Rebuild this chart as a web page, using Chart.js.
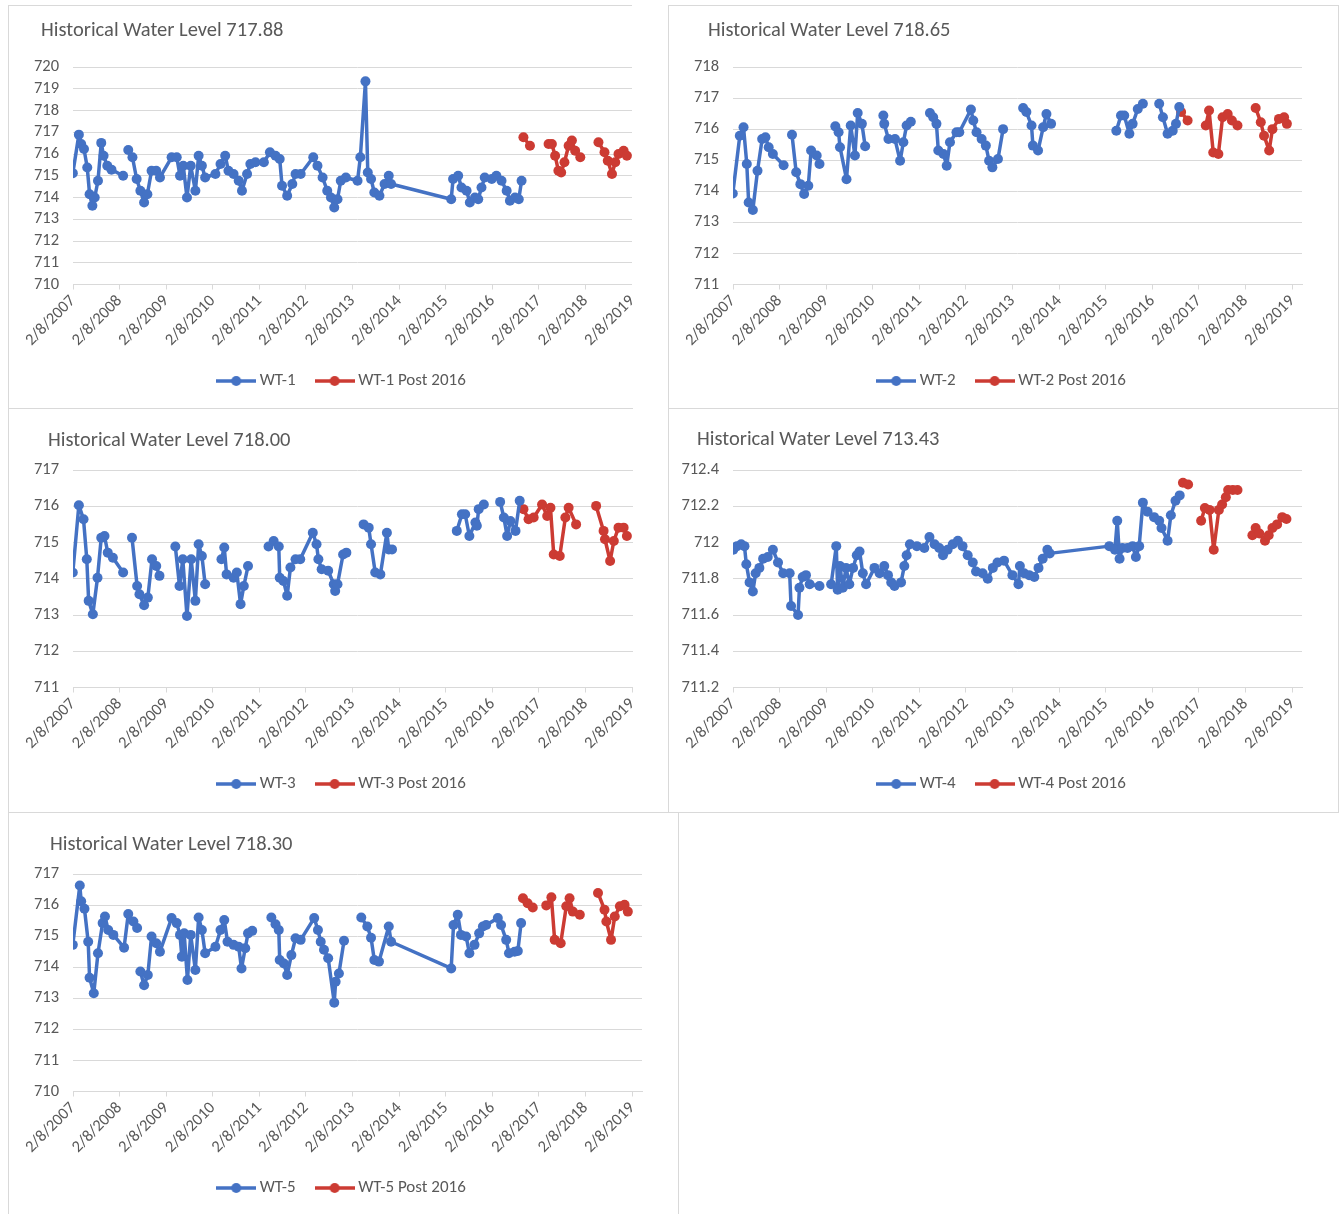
<!DOCTYPE html>
<html>
<head>
<meta charset="utf-8">
<title>Historical Water Levels</title>
<script src="https://cdn.jsdelivr.net/npm/chart.js"></script>
<style>
  body { margin: 0; background: #fff; width: 1344px; height: 1214px; position: relative; overflow: hidden; }
  .panel { position: absolute; box-sizing: border-box; border: 1px solid #d9d9d9; overflow: hidden; background: #fff; }
  .panel canvas { position: absolute; left: 0; top: 0; }
</style>
</head>
<body>
<div class="panel" style="left:8px;top:5px;width:624px;height:404px;border-right:none;"><canvas id="wt1Chart" width="669" height="402"></canvas></div>
<div class="panel" style="left:668px;top:5px;width:671px;height:404px;"><canvas id="wt2Chart" width="669" height="402"></canvas></div>
<div class="panel" style="left:8px;top:408px;width:625px;height:405px;border-right:none;"><canvas id="wt3Chart" width="669" height="402"></canvas></div>
<div class="panel" style="left:668px;top:408px;width:671px;height:405px;"><canvas id="wt4Chart" width="669" height="402"></canvas></div>
<div class="panel" style="left:8px;top:812px;width:671px;height:404px;"><canvas id="wt5Chart" width="669" height="402"></canvas></div>

<script>
// ---- data: [decimal year, water level], null = gap in the record ----
const chartTitles = ['Historical Water Level 717.88', 'Historical Water Level 718.65', 'Historical Water Level 718.00',
                     'Historical Water Level 713.43', 'Historical Water Level 718.30'];
const wellNames = ['WT-1', 'WT-2', 'WT-3', 'WT-4', 'WT-5'];
const tickYears = [2007, 2008, 2009, 2010, 2011, 2012, 2013, 2014, 2015, 2016, 2017, 2018, 2019];
const tickLabels = ['2/8/2007', '2/8/2008', '2/8/2009', '2/8/2010', '2/8/2011', '2/8/2012', '2/8/2013',
                    '2/8/2014', '2/8/2015', '2/8/2016', '2/8/2017', '2/8/2018', '2/8/2019'];

const wt1 = [[2007.10,715.12],[2007.23,716.89],[2007.28,716.46],[2007.34,716.23],[2007.41,715.38],[2007.46,714.15],
  [2007.52,713.62],[2007.57,714.0],[2007.64,714.77],[2007.71,716.51],[2007.76,715.92],[2007.84,715.46],[2007.93,715.28],
  [2008.18,715.0],null,[2008.29,716.18],[2008.38,715.85],[2008.47,714.85],[2008.55,714.31],[2008.63,713.77],[2008.70,714.15],
  [2008.79,715.23],[2008.89,715.23],[2008.97,714.92],[2009.22,715.85],[2009.33,715.85],[2009.40,715.0],[2009.47,715.46],
  [2009.55,714.0],[2009.63,715.46],[2009.73,714.31],[2009.80,715.92],[2009.87,715.46],[2009.94,714.92],[2010.16,715.08],
  [2010.27,715.54],[2010.37,715.92],[2010.44,715.23],[2010.55,715.08],[2010.66,714.77],[2010.73,714.31],[2010.84,715.08],
  [2010.91,715.54],[2011.02,715.62],[2011.20,715.62],[2011.33,716.08],[2011.45,715.92],[2011.54,715.77],[2011.59,714.54],
  [2011.70,714.08],[2011.81,714.62],[2011.88,715.08],[2011.99,715.08],[2012.26,715.85],[2012.35,715.46],[2012.46,714.92],
  [2012.56,714.31],[2012.64,714.0],[2012.71,713.54],[2012.78,713.92],[2012.85,714.77],[2012.96,714.92],[2013.21,714.77],
  [2013.27,715.85],[2013.38,719.34],[2013.43,715.15],[2013.50,714.85],[2013.57,714.23],[2013.68,714.08],[2013.79,714.62],
  [2013.88,715.0],[2013.93,714.62],[2015.22,713.92],[2015.26,714.85],[2015.37,715.0],[2015.44,714.46],[2015.55,714.31],
  [2015.62,713.77],[2015.73,714.0],[2015.80,713.92],[2015.87,714.46],[2015.94,714.92],[2016.09,714.85],[2016.19,715.0],
  [2016.30,714.77],[2016.41,714.31],[2016.48,713.85],[2016.59,714.0],[2016.67,713.92],[2016.73,714.77]];
const wt1Post = [[2016.77,716.77],[2016.91,716.38],null,[2017.31,716.46],[2017.38,716.46],[2017.45,715.92],[2017.52,715.23],
  [2017.58,715.15],[2017.65,715.62],[2017.74,716.38],[2017.81,716.62],[2017.88,716.15],[2017.99,715.85],null,
  [2018.38,716.54],[2018.51,716.08],[2018.58,715.69],[2018.67,715.08],[2018.74,715.62],[2018.81,716.0],[2018.92,716.15],
  [2018.99,715.92]];

const wt2 = [[2007.10,713.93],[2007.25,715.79],[2007.33,716.06],[2007.40,714.88],[2007.44,713.64],[2007.53,713.40],
  [2007.63,714.66],[2007.73,715.68],[2007.80,715.74],[2007.87,715.42],[2007.96,715.20],[2008.19,714.84],null,
  [2008.37,715.82],[2008.46,714.61],[2008.55,714.23],[2008.63,713.91],[2008.72,714.18],[2008.78,715.31],[2008.90,715.15],
  [2008.96,714.88],null,[2009.30,716.09],[2009.37,715.90],[2009.40,715.42],[2009.54,714.39],[2009.63,716.12],[2009.72,715.15],
  [2009.78,716.52],[2009.87,716.17],[2009.94,715.45],null,[2010.33,716.44],[2010.35,716.17],[2010.44,715.68],[2010.58,715.68],
  [2010.69,714.98],[2010.76,715.58],[2010.83,716.12],[2010.92,716.24],null,[2011.33,716.52],[2011.40,716.38],[2011.47,716.17],
  [2011.51,715.31],[2011.62,715.20],[2011.69,714.82],[2011.76,715.58],[2011.90,715.90],[2011.96,715.90],[2012.21,716.63],
  [2012.26,716.28],[2012.33,715.90],[2012.44,715.68],[2012.53,715.47],[2012.60,714.98],[2012.67,714.77],[2012.79,715.04],
  [2012.90,716.0],null,[2013.33,716.68],[2013.40,716.55],[2013.51,716.12],[2013.54,715.47],[2013.65,715.31],[2013.76,716.06],
  [2013.83,716.49],[2013.93,716.17],null,[2015.33,715.95],[2015.43,716.44],[2015.50,716.44],[2015.61,715.85],[2015.68,716.17],
  [2015.79,716.65],[2015.90,716.82],null,[2016.25,716.82],[2016.33,716.38],[2016.43,715.85],[2016.54,715.95],[2016.61,716.17],
  [2016.68,716.71]];
const wt2Post = [[2016.72,716.55],[2016.86,716.28],null,[2017.25,716.12],[2017.32,716.60],[2017.41,715.25],[2017.52,715.20],
  [2017.61,716.38],[2017.72,716.49],[2017.81,716.28],[2017.93,716.12],null,[2018.32,716.68],[2018.43,716.22],[2018.50,715.79],
  [2018.61,715.31],[2018.68,716.0],[2018.82,716.33],[2018.93,716.38],[2018.99,716.17]];

const wt3 = [[2007.10,714.17],[2007.23,716.03],[2007.33,715.64],[2007.40,714.54],[2007.44,713.39],[2007.53,713.02],
  [2007.63,714.03],[2007.71,715.13],[2007.78,715.18],[2007.85,714.72],[2007.96,714.58],[2008.18,714.17],null,
  [2008.37,715.13],[2008.48,713.80],[2008.53,713.57],[2008.63,713.27],[2008.71,713.48],[2008.80,714.54],[2008.89,714.35],
  [2008.96,714.08],null,[2009.30,714.89],[2009.39,713.80],[2009.46,714.54],[2009.55,712.97],[2009.64,714.54],[2009.73,713.39],
  [2009.80,714.95],[2009.87,714.63],[2009.94,713.85],null,[2010.29,714.54],[2010.35,714.86],[2010.40,714.12],[2010.55,714.03],
  [2010.62,714.17],[2010.70,713.30],[2010.77,713.80],[2010.86,714.35],null,[2011.30,714.89],[2011.41,715.04],[2011.52,714.89],
  [2011.54,714.03],[2011.62,713.94],[2011.70,713.53],[2011.77,714.31],[2011.88,714.54],[2011.98,714.54],[2012.25,715.27],
  [2012.33,714.95],[2012.37,714.54],[2012.44,714.26],[2012.58,714.22],[2012.70,713.85],[2012.73,713.66],[2012.78,713.85],
  [2012.90,714.67],[2012.97,714.72],null,[2013.34,715.50],[2013.45,715.41],[2013.50,714.95],[2013.59,714.17],[2013.70,714.12],
  [2013.84,715.27],[2013.88,714.81],[2013.95,714.81],null,[2015.34,715.32],[2015.45,715.78],[2015.52,715.78],[2015.61,715.18],
  [2015.74,715.55],[2015.77,715.46],[2015.81,715.92],[2015.92,716.05],null,[2016.27,716.12],[2016.35,715.69],[2016.42,715.18],
  [2016.49,715.59],[2016.60,715.32],[2016.69,716.15]];
const wt3Post = [[2016.77,715.92],[2016.88,715.64],[2016.99,715.69],[2017.17,716.05],[2017.28,715.73],[2017.35,715.96],
  [2017.42,714.67],[2017.55,714.63],[2017.67,715.69],[2017.74,715.96],[2017.90,715.50],null,[2018.33,716.01],[2018.49,715.32],
  [2018.52,715.09],[2018.63,714.49],[2018.71,715.04],[2018.81,715.41],[2018.92,715.41],[2018.99,715.18]];

const wt4 = [[2007.11,711.96],[2007.19,711.98],[2007.28,711.99],[2007.35,711.98],[2007.39,711.88],[2007.46,711.78],
  [2007.53,711.73],[2007.59,711.83],[2007.67,711.86],[2007.75,711.91],[2007.85,711.92],[2007.96,711.96],[2008.07,711.89],
  [2008.18,711.83],[2008.32,711.83],[2008.35,711.65],[2008.50,711.60],[2008.53,711.75],[2008.60,711.81],[2008.67,711.82],
  [2008.75,711.77],[2008.96,711.76],null,[2009.21,711.77],[2009.32,711.98],[2009.35,711.74],[2009.40,711.87],[2009.46,711.75],
  [2009.53,711.86],[2009.60,711.77],[2009.68,711.86],[2009.76,711.93],[2009.82,711.95],[2009.89,711.83],[2009.96,711.77],
  [2010.14,711.86],[2010.25,711.83],[2010.35,711.87],[2010.43,711.82],[2010.50,711.78],[2010.57,711.76],[2010.71,711.78],
  [2010.78,711.87],[2010.83,711.93],[2010.90,711.99],[2011.05,711.98],[2011.21,711.97],[2011.32,712.03],[2011.43,711.99],
  [2011.53,711.97],[2011.61,711.93],[2011.71,711.96],[2011.82,711.99],[2011.93,712.01],[2012.03,711.98],[2012.14,711.93],
  [2012.25,711.89],[2012.32,711.84],[2012.46,711.83],[2012.57,711.80],[2012.68,711.86],[2012.78,711.89],[2012.92,711.90],
  [2013.10,711.82],[2013.23,711.77],[2013.26,711.87],[2013.35,711.83],[2013.46,711.82],[2013.57,711.81],[2013.66,711.86],
  [2013.75,711.91],[2013.85,711.96],[2013.90,711.94],[2015.18,711.98],[2015.30,711.96],[2015.35,712.12],[2015.40,711.91],
  [2015.46,711.97],[2015.57,711.97],[2015.68,711.98],[2015.75,711.92],[2015.82,711.98],[2015.90,712.22],[2016.00,712.17],
  [2016.14,712.14],[2016.25,712.12],[2016.30,712.08],[2016.43,712.01],[2016.50,712.15],[2016.60,712.23],[2016.69,712.26]];
const wt4Post = [[2016.76,712.33],[2016.87,712.32],null,[2017.15,712.12],[2017.23,712.19],[2017.33,712.18],[2017.42,711.96],
  [2017.53,712.18],[2017.60,712.21],[2017.68,712.25],[2017.73,712.29],[2017.83,712.29],[2017.93,712.29],null,
  [2018.25,712.04],[2018.32,712.08],[2018.40,712.05],[2018.52,712.01],[2018.60,712.04],[2018.68,712.08],[2018.78,712.10],
  [2018.89,712.14],[2018.98,712.13]];

const wt5 = [[2007.10,714.72],[2007.25,716.63],[2007.28,716.12],[2007.35,715.88],[2007.43,714.82],[2007.46,713.66],
  [2007.55,713.16],[2007.64,714.45],[2007.74,715.42],[2007.79,715.63],[2007.86,715.20],[2007.97,715.04],[2008.20,714.63],
  [2008.29,715.71],[2008.40,715.47],[2008.48,715.26],null,[2008.55,713.86],[2008.63,713.42],[2008.71,713.75],[2008.79,714.99],
  [2008.89,714.77],[2008.97,714.50],[2009.22,715.58],[2009.33,715.42],[2009.40,715.04],[2009.44,714.34],[2009.49,715.09],
  [2009.56,713.59],[2009.63,715.04],[2009.73,713.91],[2009.80,715.60],[2009.87,715.20],[2009.94,714.45],[2010.16,714.66],
  [2010.27,715.20],[2010.35,715.52],[2010.42,714.82],[2010.55,714.72],[2010.66,714.66],[2010.72,713.96],[2010.80,714.61],
  [2010.86,715.09],[2010.95,715.17],null,[2011.36,715.60],[2011.45,715.38],[2011.52,715.20],[2011.54,714.23],[2011.63,714.12],
  [2011.70,713.75],[2011.79,714.39],[2011.88,714.93],[2011.99,714.88],[2012.28,715.58],[2012.36,715.20],[2012.42,714.82],
  [2012.49,714.56],[2012.58,714.29],[2012.71,712.86],[2012.74,713.53],[2012.81,713.80],[2012.92,714.85],null,
  [2013.29,715.60],[2013.42,715.31],[2013.50,714.95],[2013.57,714.23],[2013.67,714.18],[2013.88,715.31],[2013.93,714.82],
  [2015.22,713.96],[2015.27,715.36],[2015.36,715.69],[2015.43,715.04],[2015.54,714.99],[2015.61,714.45],[2015.72,714.72],
  [2015.82,715.09],[2015.90,715.31],[2015.97,715.36],[2016.22,715.58],[2016.29,715.36],[2016.40,714.88],[2016.46,714.45],
  [2016.58,714.50],[2016.65,714.52],[2016.72,715.42]];
const wt5Post = [[2016.76,716.22],[2016.86,716.06],[2016.97,715.92],null,[2017.26,715.99],[2017.37,716.25],[2017.44,714.88],
  [2017.57,714.77],[2017.69,715.96],[2017.76,716.22],[2017.83,715.79],[2017.98,715.69],null,[2018.37,716.39],[2018.51,715.85],
  [2018.55,715.47],[2018.65,714.88],[2018.73,715.63],[2018.84,715.96],[2018.94,716.01],[2019.01,715.79]];

const yMins = [710, 711, 711, 711.2, 710];
const yMaxs = [720, 718, 717, 712.4, 717];
const ySteps = [1, 1, 1, 0.2, 1];

// ---- look ----
const BLUE = '#4472C4', RED = '#CC3B33', TEXT = '#595959', GRID = '#d9d9d9';
const FONT = 'Carlito, Calibri, Lato, sans-serif';
const FEB8 = 38 / 365;
const PX_PER_YEAR = 46.6;
const CANVAS_W = 669, PLOT_LEFT = 64, PLOT_TOP = 61, PLOT_RIGHT = 633, X_AXIS_H = 64;
// where each panel's title sits (left x, centre y) in its canvas
const titleX = [32, 39, 39, 28, 41];
const titleY = [25, 25, 32, 31, 32];

// draws the panel title at its own offset (the built-in title can only sit at the layout edge)
const panelTitle = {
  id: 'panelTitle',
  afterDraw(chart, args, opts) {
    const ctx = chart.ctx;
    ctx.save();
    ctx.font = 'normal ' + opts.size + 'px ' + FONT;
    ctx.fillStyle = TEXT;
    ctx.textBaseline = 'middle';
    ctx.textAlign = 'left';
    ctx.fillText(opts.text, opts.x, opts.y);
    ctx.restore();
  }
};

function toPoints(rows) {
  return rows.map(r => r ? { x: r[0], y: r[1] } : { x: null, y: null });
}

function legendIcon(color) {
  const c = document.createElement('canvas');
  c.width = 40; c.height = 12;
  const g = c.getContext('2d');
  g.strokeStyle = color; g.lineWidth = 3.5;
  g.beginPath(); g.moveTo(0, 6); g.lineTo(40, 6); g.stroke();
  g.fillStyle = color;
  g.beginPath(); g.arc(20, 6, 5, 0, Math.PI * 2); g.fill();
  return c;
}

function series(label, rows, color) {
  return {
    label: label, data: toPoints(rows), showLine: true,
    borderColor: color, backgroundColor: color, borderWidth: 3.5,
    borderJoinStyle: 'round', borderCapStyle: 'round',
    pointRadius: 5, pointHoverRadius: 5, pointBorderWidth: 0
  };
}

function makeChart(i, blueRows, redRows) {
  const xMin = tickYears[0] + FEB8;
  const xMax = xMin + (PLOT_RIGHT - PLOT_LEFT) / PX_PER_YEAR;
  new Chart(document.getElementById('wt' + (i + 1) + 'Chart'), {
    type: 'scatter',
    data: { datasets: [series(wellNames[i], blueRows, BLUE), series(wellNames[i] + ' Post 2016', redRows, RED)] },
    plugins: [panelTitle],
    options: {
      responsive: false,
      animation: false,
      layout: { padding: { left: 0, right: 0, top: PLOT_TOP, bottom: 8.5 } },
      plugins: {
        title: { display: false },
        panelTitle: { text: chartTitles[i], x: titleX[i], y: titleY[i], size: 20.5 },
        legend: {
          position: 'bottom',
          labels: {
            usePointStyle: true, pointStyleWidth: 30, padding: 24, color: TEXT,
            font: { family: FONT, size: 17 },
            generateLabels: chart => chart.data.datasets.map((ds, k) => ({
              text: ds.label, pointStyle: legendIcon(ds.borderColor), fillStyle: ds.borderColor,
              strokeStyle: ds.borderColor, lineWidth: 0, fontColor: TEXT, datasetIndex: k, hidden: false
            }))
          }
        },
        tooltip: { enabled: false }
      },
      scales: {
        x: {
          type: 'linear', min: xMin, max: xMax,
          afterBuildTicks: s => { s.ticks = tickYears.map(y => ({ value: y + FEB8 })); },
          afterFit: s => { s.height = X_AXIS_H; },
          ticks: {
            autoSkip: false, minRotation: 45, maxRotation: 45, padding: 2, color: TEXT,
            font: { family: FONT, size: 16.5 },
            callback: (v, k) => tickLabels[k]
          },
          grid: { drawOnChartArea: false, drawTicks: true, tickLength: 5, color: GRID },
          border: { color: GRID }
        },
        y: {
          min: yMins[i], max: yMaxs[i],
          afterFit: s => { s.width = PLOT_LEFT; },
          ticks: {
            stepSize: ySteps[i], autoSkip: false, padding: 14, color: TEXT, font: { family: FONT, size: 16.5 },
            callback: v => String(Math.round(v * 10) / 10)
          },
          grid: { color: GRID, drawTicks: false },
          border: { display: false }
        },
        // empty right-hand margin so the plot stops short of the panel edge while the legend stays centred
        margin: {
          type: 'linear', position: 'right', min: 0, max: 1,
          afterFit: s => { s.width = CANVAS_W - PLOT_RIGHT; },
          ticks: { display: false }, grid: { display: false }, border: { display: false }
        }
      }
    }
  });
}

makeChart(0, wt1, wt1Post);
makeChart(1, wt2, wt2Post);
makeChart(2, wt3, wt3Post);
makeChart(3, wt4, wt4Post);
makeChart(4, wt5, wt5Post);
</script>
</body>
</html>
